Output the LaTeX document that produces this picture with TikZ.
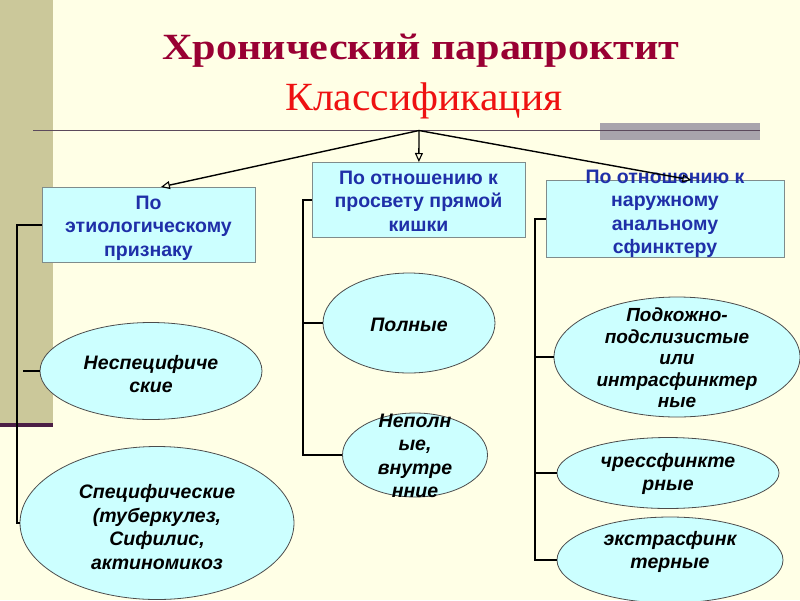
\documentclass[tikz,border=0pt]{standalone}
\usepackage{fontspec}
\setmainfont{Liberation Serif}
\newfontfamily\arialf{Liberation Sans}
\usetikzlibrary{arrows.meta,shapes.geometric,calc}
\definecolor{bgc}{HTML}{FFFFE6}
\definecolor{stripc}{HTML}{CBC89A}
\definecolor{purpc}{HTML}{4B1E45}
\definecolor{tlinec}{HTML}{5C4A5C}
\definecolor{grayrc}{HTML}{A8A4AC}
\definecolor{titlec}{HTML}{990033}
\definecolor{subc}{HTML}{EE1111}
\definecolor{cyanc}{HTML}{CCFFFF}
\definecolor{boxborder}{HTML}{7F8C8C}
\definecolor{bluetext}{HTML}{1F2FA8}
\tikzset{
  boxshape/.style={draw=boxborder, line width=0.8pt, fill=cyanc, rectangle, inner sep=0pt, anchor=north west},
  boxtext/.style={align=center, text=bluetext, font=\arialf\bfseries\fontsize{19.5}{23.5}\selectfont, inner sep=0pt},
  ellshape/.style={draw=black!70, line width=0.8pt, fill=cyanc, ellipse, inner sep=0pt},
  elltext/.style={align=center, text=black, font=\arialf\bfseries\itshape\fontsize{19.5}{23.5}\selectfont, inner sep=0pt},
  bracket/.style={draw=black, line width=2pt},
  arr/.style={draw=black, line width=1.4pt, -{Triangle[open,length=9pt,width=8pt,line width=1.1pt]}}
}
\begin{document}
\begin{tikzpicture}[x=1pt,y=-1pt]
\useasboundingbox (0,0) rectangle (800,600);
\fill[bgc] (0,0) rectangle (800,600);
\fill[stripc] (0,0) rectangle (53,425);
\draw[purpc, line width=4pt] (0,425) -- (53,425);
\fill[grayrc] (600,123) rectangle (760,140);
\draw[tlinec, line width=1.5pt] (33,130.5) -- (760,130.5);

\node[anchor=base, text=titlec, font=\bfseries\fontsize{37}{40}\selectfont, inner sep=0pt, xscale=1.14] (title) at (421,59.5) {Хронический парапроктит};
\node[anchor=base, text=subc, font=\fontsize{40}{44}\selectfont, inner sep=0pt, xscale=1.04] (subtitle) at (424,110.5) {Классификация};

\coordinate (hub) at (419,130.5);

% boxes
\node[boxshape, minimum width=213pt, minimum height=75pt] (boxL) at (42,187) {};
\node[boxtext] (tL) at (148.5,228) {По\\этиологическому\\признаку};
\node[boxshape, minimum width=213pt, minimum height=75pt] (boxM) at (312,162) {};
\node[boxtext] (tM) at (418.5,201) {По отношению к\\просвету прямой\\кишки};
\node[boxshape, minimum width=238pt, minimum height=77pt] (boxR) at (546,180) {};
\node[boxtext] (tR) at (665,214) {По отношению к\\наружному\\анальному\\сфинктеру};

% arrows
\coordinate (tipL) at ($(boxL.north)+(12,0)$);
\coordinate (tipR) at ($(boxR.north)+(26,0)$);
\draw[arr] (hub) -- (tipL);
\draw[arr] (hub) -- (boxM.north);
\draw[arr] (hub) -- (tipR);

% ellipses
\node[ellshape, minimum width=222pt, minimum height=97pt] (E1) at (151,371) {};
\node[elltext] (tE1) at (151,374) {Неспецифиче\\ские};
\node[ellshape, minimum width=274pt, minimum height=153pt] (E2) at (157,523) {};
\node[elltext] (tE2) at (157,527) {Специфические\\(туберкулез,\\Сифилис,\\актиномикоз};
\node[ellshape, minimum width=172pt, minimum height=100pt] (M1) at (409,323) {};
\node[elltext] (tM1) at (409,325) {Полные};
\node[ellshape, minimum width=145pt, minimum height=84pt] (M2) at (415,455) {};
\node[elltext] (tM2) at (415,456) {Неполн\\ые,\\внутре\\нние};
\node[ellshape, minimum width=246pt, minimum height=120pt] (R1) at (677,357) {};
\node[elltext, font=\arialf\bfseries\itshape\fontsize{19}{21.5}\selectfont] (tR1) at (677,358) {Подкожно-\\подслизистые\\или\\интрасфинктер\\ные};
\node[ellshape, minimum width=222pt, minimum height=71pt] (R2) at (668,473) {};
\node[elltext] (tR2) at (668,474) {чрессфинкте\\рные};
\node[ellshape, minimum width=226pt, minimum height=86pt] (R3) at (670,560) {};
\node[elltext] (tR3) at (670,552) {экстрасфинк\\терные};

% brackets
\coordinate (spL) at (17,523);
\coordinate (tickL) at (23,371);
\draw[bracket] (boxL.west) -| (spL) -- (E2.west);
\draw[bracket] (tickL) -- (E1.west);

\coordinate (spM) at (303,455);
\draw[bracket] (boxM.west) -| (spM) -- (M2.west);
\draw[bracket] (M1.west -| spM) -- (M1.west);

\coordinate (spR) at (535,560);
\draw[bracket] (boxR.west) -| (spR) -- (R3.west);
\draw[bracket] (R1.west -| spR) -- (R1.west);
\draw[bracket] (R2.west -| spR) -- (R2.west);
\end{tikzpicture}
\end{document}
